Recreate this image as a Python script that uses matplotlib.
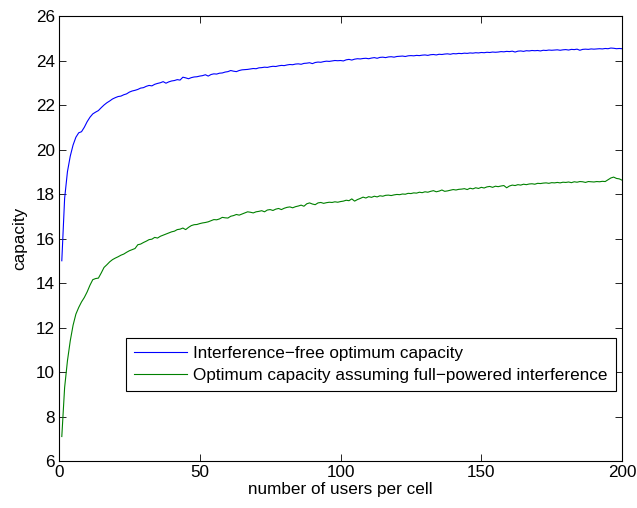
import numpy as np
import matplotlib
matplotlib.use("Agg")
import matplotlib.pyplot as plt

plt.rcParams["font.family"] = ["Liberation Sans", "DejaVu Sans"]

# number of users per cell
users = np.arange(1, 201)

# Interference-free optimum capacity
free_cap = [
    15.0, 17.8, 19.0, 19.7, 20.2, 20.55, 20.75, 20.8, 21.0, 21.25,
    21.45, 21.6, 21.68, 21.75, 21.88, 22.0, 22.1, 22.18, 22.27, 22.33,
    22.38, 22.4, 22.46, 22.5, 22.58, 22.63, 22.66, 22.7, 22.76, 22.78,
    22.84, 22.88, 22.86, 22.93, 22.97, 23.0, 23.05, 22.98, 23.04, 23.08,
    23.1, 23.14, 23.12, 23.25, 23.22, 23.18, 23.23, 23.26, 23.27, 23.3,
    23.32, 23.36, 23.3, 23.37, 23.4, 23.39, 23.43, 23.44, 23.48, 23.5,
    23.55, 23.52, 23.5, 23.55, 23.58, 23.59, 23.6, 23.62, 23.64, 23.63,
    23.67, 23.68, 23.7, 23.69, 23.72, 23.74, 23.73, 23.76, 23.78, 23.77,
    23.8, 23.82, 23.81, 23.84, 23.85, 23.83, 23.87, 23.88, 23.9, 23.86,
    23.91, 23.93, 23.92, 23.95, 23.97, 23.96, 23.98, 24.0, 23.99, 24.0,
    23.98, 24.03, 24.05, 24.02, 24.06, 24.08, 24.07, 24.09, 24.1, 24.08,
    24.11, 24.13, 24.1, 24.14, 24.15, 24.13, 24.16, 24.17, 24.15, 24.18,
    24.19, 24.2, 24.18, 24.21, 24.22, 24.21, 24.23, 24.22, 24.24, 24.25,
    24.23, 24.26, 24.27, 24.25, 24.28, 24.27, 24.29, 24.3, 24.28, 24.31,
    24.3, 24.32, 24.31, 24.33, 24.32, 24.34, 24.33, 24.35, 24.34, 24.36,
    24.35, 24.37, 24.36, 24.38, 24.37, 24.38, 24.4, 24.39, 24.41, 24.4,
    24.42, 24.38, 24.42, 24.43, 24.41, 24.44, 24.43, 24.45, 24.44, 24.45,
    24.43, 24.46, 24.45, 24.47, 24.46, 24.47, 24.48, 24.46, 24.48, 24.49,
    24.47, 24.5, 24.49, 24.51, 24.46, 24.5, 24.51, 24.5, 24.52, 24.51,
    24.52, 24.53, 24.52, 24.54, 24.53, 24.56, 24.55, 24.53, 24.54, 24.53,
]

# Optimum capacity assuming full-powered interference
full_cap = [
    7.1, 9.3, 10.5, 11.4, 12.1, 12.6, 12.9, 13.15, 13.35, 13.6,
    13.9, 14.15, 14.2, 14.22, 14.45, 14.7, 14.82, 14.95, 15.05, 15.12,
    15.18, 15.25, 15.3, 15.38, 15.45, 15.5, 15.55, 15.72, 15.75, 15.82,
    15.88, 15.95, 15.97, 16.05, 16.02, 16.1, 16.15, 16.2, 16.25, 16.3,
    16.33, 16.4, 16.42, 16.47, 16.4, 16.5, 16.58, 16.62, 16.63, 16.67,
    16.7, 16.72, 16.75, 16.8, 16.85, 16.84, 16.88, 16.95, 16.93, 16.92,
    17.0, 17.03, 17.08, 17.05, 17.1, 17.15, 17.2, 17.18, 17.15, 17.2,
    17.22, 17.25, 17.2, 17.28, 17.3, 17.26, 17.32, 17.35, 17.3, 17.36,
    17.4, 17.42, 17.38, 17.43, 17.46, 17.5, 17.45, 17.56, 17.6, 17.55,
    17.52, 17.6, 17.62, 17.58, 17.61, 17.63, 17.62, 17.65, 17.63, 17.66,
    17.68, 17.72, 17.7, 17.78, 17.68, 17.75, 17.8, 17.86, 17.82, 17.88,
    17.85, 17.9, 17.87, 17.92, 17.9, 17.94, 17.95, 17.93, 17.96, 17.98,
    17.97, 18.0, 17.99, 18.03, 18.02, 18.05, 18.04, 18.08, 18.06, 18.1,
    18.08, 18.12, 18.15, 18.1, 18.13, 18.18, 18.12, 18.14, 18.17, 18.2,
    18.18, 18.21, 18.22, 18.24, 18.2, 18.26, 18.23, 18.28, 18.25, 18.3,
    18.27, 18.32, 18.34, 18.3, 18.35, 18.33, 18.36, 18.38, 18.28, 18.36,
    18.4, 18.38, 18.42, 18.4, 18.44, 18.42, 18.45, 18.46, 18.44, 18.48,
    18.47, 18.49, 18.5, 18.48, 18.51, 18.5, 18.52, 18.5, 18.53, 18.52,
    18.54, 18.51, 18.55, 18.53, 18.56, 18.55, 18.52, 18.56, 18.55, 18.54,
    18.56, 18.55, 18.57, 18.56, 18.64, 18.72, 18.76, 18.7, 18.68, 18.62,
]

labels = ["Interference\u2212free optimum capacity",
          "Optimum capacity assuming full\u2212powered interference"]

fig = plt.figure(figsize=(6.37, 5.08), dpi=100)
ax = fig.add_axes([0.0926, 0.0925, 0.884, 0.876])

ax.plot(users, free_cap, color=(0, 0, 1), lw=0.8, label=labels[0])
ax.plot(users, full_cap, color=(0, 0.5, 0), lw=0.8, label=labels[1])

ax.set_xlim(0, 200)
ax.set_ylim(6, 26)
ax.set_xticks(np.arange(0, 201, 50))
ax.set_yticks(np.arange(6, 27, 2))
ax.tick_params(direction="in", top=True, right=True, length=5, width=0.6,
               labelsize=12.3, pad=3)
for s in ax.spines.values():
    s.set_linewidth(0.8)

ax.set_xlabel("number of users per cell", fontsize=12.3, labelpad=1)
ax.set_ylabel("capacity", fontsize=12.3, labelpad=6)

leg = ax.legend(loc="lower left", bbox_to_anchor=(0.119, 0.157),
                borderaxespad=0, fontsize=12.3, fancybox=False,
                handlelength=3.1, handletextpad=0.4, framealpha=1,
                edgecolor="black", borderpad=0.45, labelspacing=0.45)
leg.get_frame().set_linewidth(0.8)

fig.savefig("out.png", dpi=100)
